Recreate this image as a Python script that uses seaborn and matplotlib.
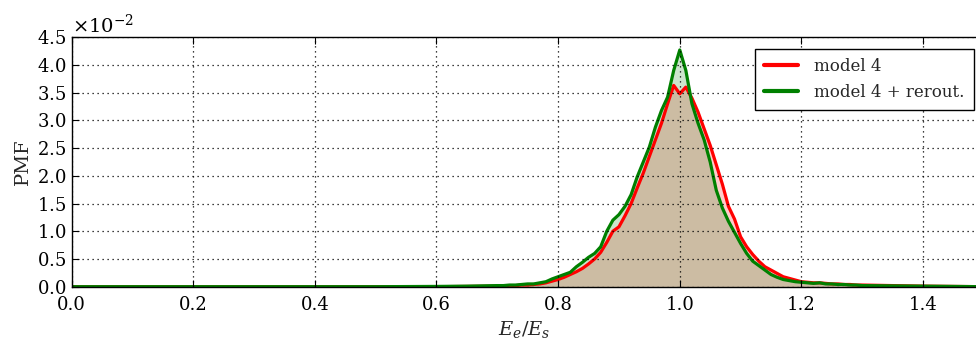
import numpy as np
import pandas as pd
import matplotlib
matplotlib.use("Agg")
import matplotlib.pyplot as plt
import seaborn as sns

# ---- data (PMF values in units of 1e-2) ----
scale = 1e-2
x_core = [round(0.70 + 0.01 * i, 2) for i in range(61)]  # 0.70 .. 1.30

red_core = [0.01, 0.01, 0.02, 0.02, 0.03, 0.03, 0.04, 0.05, 0.07, 0.10,
            0.13, 0.17, 0.22, 0.27, 0.33, 0.41, 0.50, 0.62, 0.80, 1.00,
            1.08, 1.28, 1.50, 1.78, 2.05, 2.35, 2.65, 2.95, 3.30, 3.63,
            3.48, 3.60, 3.40, 3.15, 2.85, 2.55, 2.20, 1.85, 1.45, 1.22,
            0.90, 0.72, 0.58, 0.46, 0.36, 0.30, 0.24, 0.18, 0.15, 0.12,
            0.09, 0.08, 0.07, 0.07, 0.06, 0.05, 0.05, 0.04, 0.04, 0.03,
            0.03]

green_core = [0.02, 0.02, 0.03, 0.03, 0.04, 0.05, 0.05, 0.07, 0.09, 0.14,
              0.18, 0.22, 0.26, 0.36, 0.44, 0.53, 0.60, 0.72, 1.00, 1.20,
              1.30, 1.45, 1.66, 1.98, 2.25, 2.52, 2.88, 3.18, 3.42, 3.90,
              4.27, 3.90, 3.30, 2.95, 2.65, 2.25, 1.74, 1.42, 1.18, 0.98,
              0.78, 0.60, 0.46, 0.38, 0.30, 0.22, 0.17, 0.13, 0.11, 0.09,
              0.08, 0.07, 0.06, 0.07, 0.05, 0.05, 0.04, 0.04, 0.03, 0.03,
              0.02]

x_left_tail = [0.0, 0.50, 0.60, 0.65]
red_left_tail = [0.0, 0.0, 0.0, 0.005]
green_left_tail = [0.0, 0.0, 0.005, 0.01]
x_right_tail = [1.35, 1.40, 1.45, 1.50]
red_right_tail = [0.02, 0.01, 0.005, 0.0]
green_right_tail = [0.015, 0.01, 0.005, 0.0]

labels = ["model 4", "model 4 + rerout."]
y_ticks = [0.0, 0.5, 1.0, 1.5, 2.0, 2.5, 3.0, 3.5, 4.0, 4.5]
x_ticks = [0.0, 0.2, 0.4, 0.6, 0.8, 1.0, 1.2, 1.4]

x_all = x_left_tail + x_core + x_right_tail
red_all = np.array(red_left_tail + red_core + red_right_tail) * scale
green_all = np.array(green_left_tail + green_core + green_right_tail) * scale

df = pd.DataFrame({
    "x": x_all + x_all,
    "pmf": np.concatenate([red_all, green_all]),
    "model": [labels[0]] * len(x_all) + [labels[1]] * len(x_all),
})

# ---- style ----
sns.set_style("ticks")
plt.rcParams["font.family"] = ["DejaVu Serif"]
plt.rcParams["mathtext.fontset"] = "dejavuserif"

fig = plt.figure(figsize=(9.76, 3.4), dpi=100)
ax = fig.add_axes([71.5 / 976, 53.3 / 340, 904.5 / 976, 249.5 / 340])

ax.fill_between(x_all, red_all, color="red", alpha=0.2, linewidth=0)
ax.fill_between(x_all, green_all, color="green", alpha=0.2, linewidth=0)

sns.lineplot(data=df, x="x", y="pmf", hue="model",
             palette={labels[0]: "red", labels[1]: "green"},
             linewidth=2.3, ax=ax, sort=True, estimator=None)

ax.set_xlim(0, 1.487)
ax.set_ylim(0, 0.045)
ax.set_xticks(x_ticks)
ax.set_yticks([v * scale for v in y_ticks])
ax.ticklabel_format(axis="y", style="sci", scilimits=(-2, -2), useMathText=True)
ax.yaxis.get_offset_text().set_fontsize(14)

ax.grid(True, color="black", linestyle=(0, (1, 3)), linewidth=0.9)
ax.set_axisbelow(False)
for s in ["left", "bottom", "top"]:
    ax.spines[s].set_linewidth(1.0)
    ax.spines[s].set_color("black")
ax.spines["right"].set_visible(False)
ax.tick_params(direction="in", top=True, right=False, length=5,
               labelsize=13, colors="black")
ax.tick_params(axis="x", pad=7)

ax.set_xlabel(r"$E_e/E_s$", fontsize=14, labelpad=3)
ax.set_ylabel("PMF", fontsize=14, labelpad=4)

leg = ax.legend(loc="upper right", bbox_to_anchor=(974 / 976, (340 - 49) / 340),
                bbox_transform=fig.transFigure, borderaxespad=0,
                fontsize=12, frameon=True, fancybox=False, framealpha=1,
                edgecolor="black", handlelength=2.0, handletextpad=1.0,
                borderpad=0.55, labelspacing=0.55, title=None)
leg.get_frame().set_linewidth(1.0)
for line in leg.get_lines():
    line.set_linewidth(3.0)

fig.savefig("out.png", dpi=100)
